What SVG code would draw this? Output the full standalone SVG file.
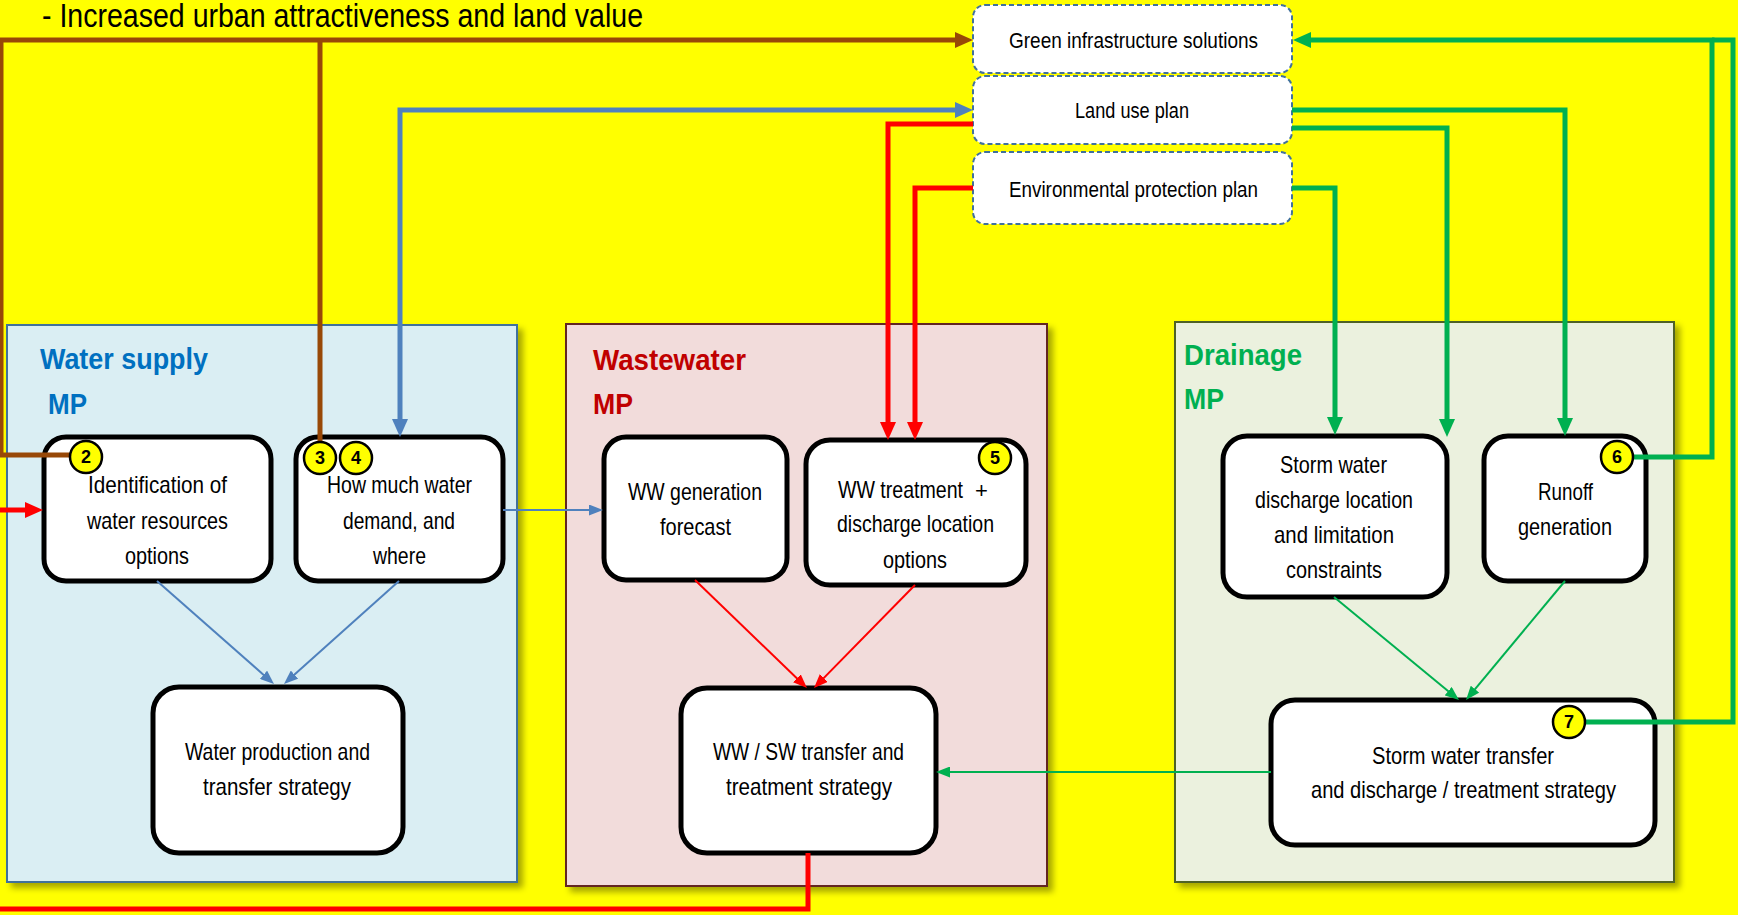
<svg xmlns="http://www.w3.org/2000/svg" width="1738" height="915" viewBox="0 0 1738 915">
<style>
text{font-family:'Liberation Sans Narrow','Liberation Sans',Arial,sans-serif;fill:#000}
.t{font-size:24px}
.tb{font-size:22px}
.pt{font-size:30px;font-weight:bold}
.node rect{fill:#fff;stroke:#000;stroke-width:5}
.dash rect{fill:#fff;stroke:#41719C;stroke-width:2;stroke-dasharray:5 3}
.badge circle{fill:#FFFF00;stroke:#000;stroke-width:2.5}
.badge text{font-size:18px;font-weight:bold;text-anchor:middle}
.c{fill:none;stroke-linejoin:miter}
.thick{stroke-width:5}
.thin{stroke-width:2}
</style>
<defs>
<filter id="sh" x="-5%" y="-5%" width="115%" height="115%">
<feDropShadow dx="5" dy="5" stdDeviation="3" flood-color="#000" flood-opacity="0.35"/>
</filter>
<marker id="abr" markerUnits="userSpaceOnUse" markerWidth="18" markerHeight="16" refX="10" refY="8" orient="auto-start-reverse"><path d="M0,0 L18,8 L0,16 z" fill="#984807"/></marker>
<marker id="abl" markerUnits="userSpaceOnUse" markerWidth="18" markerHeight="16" refX="10" refY="8" orient="auto-start-reverse"><path d="M0,0 L18,8 L0,16 z" fill="#4F81BD"/></marker>
<marker id="are" markerUnits="userSpaceOnUse" markerWidth="18" markerHeight="16" refX="10" refY="8" orient="auto-start-reverse"><path d="M0,0 L18,8 L0,16 z" fill="#FF0000"/></marker>
<marker id="agr" markerUnits="userSpaceOnUse" markerWidth="18" markerHeight="16" refX="10" refY="8" orient="auto-start-reverse"><path d="M0,0 L18,8 L0,16 z" fill="#00B050"/></marker>
<marker id="tbl" markerUnits="userSpaceOnUse" markerWidth="14" markerHeight="11" refX="10" refY="5.5" orient="auto"><path d="M0,0 L14,5.5 L0,11 z" fill="#4F81BD"/></marker>
<marker id="tre" markerUnits="userSpaceOnUse" markerWidth="14" markerHeight="11" refX="10" refY="5.5" orient="auto"><path d="M0,0 L14,5.5 L0,11 z" fill="#FF0000"/></marker>
<marker id="tgr" markerUnits="userSpaceOnUse" markerWidth="14" markerHeight="11" refX="10" refY="5.5" orient="auto"><path d="M0,0 L14,5.5 L0,11 z" fill="#00B050"/></marker>
</defs>
<rect x="0" y="0" width="1738" height="915" fill="#FFFF00"/>
<text x="42" y="27" font-size="34" textLength="601" lengthAdjust="spacingAndGlyphs">- Increased urban attractiveness and land value</text>

<g id="panel-water-supply">
<rect x="7" y="325" width="510" height="557" fill="#DAEEF3" stroke="#41719C" stroke-width="2" filter="url(#sh)"/>
<text class="pt" x="40" y="369" style="fill:#0070C0" textLength="168" lengthAdjust="spacingAndGlyphs">Water supply</text>
<text class="pt" x="48" y="414" style="fill:#0070C0" textLength="39" lengthAdjust="spacingAndGlyphs">MP</text>
</g>
<g id="panel-wastewater">
<rect x="566" y="324" width="481" height="562" fill="#F2DCDB" stroke="#632523" stroke-width="2" filter="url(#sh)"/>
<text class="pt" x="593" y="370" style="fill:#C00000" textLength="153" lengthAdjust="spacingAndGlyphs">Wastewater</text>
<text class="pt" x="593" y="414" style="fill:#C00000" textLength="40" lengthAdjust="spacingAndGlyphs">MP</text>
</g>
<g id="panel-drainage">
<rect x="1175" y="322" width="499" height="560" fill="#EBF1DE" stroke="#4F6228" stroke-width="2" filter="url(#sh)"/>
<text class="pt" x="1184" y="365" style="fill:#00B050" textLength="118" lengthAdjust="spacingAndGlyphs">Drainage</text>
<text class="pt" x="1184" y="409" style="fill:#00B050" textLength="40" lengthAdjust="spacingAndGlyphs">MP</text>
</g>

<g id="green-infrastructure" class="dash">
<rect x="973" y="5" width="319" height="68" rx="12"/>
<text class="tb" x="1009" y="48" textLength="249" lengthAdjust="spacingAndGlyphs">Green infrastructure solutions</text>
</g>
<g id="land-use-plan" class="dash">
<rect x="973" y="76" width="319" height="68" rx="12"/>
<text class="tb" x="1075" y="118" textLength="114" lengthAdjust="spacingAndGlyphs">Land use plan</text>
</g>
<g id="environmental-protection-plan" class="dash">
<rect x="973" y="152" width="319" height="72" rx="12"/>
<text class="tb" x="1009" y="197" textLength="249" lengthAdjust="spacingAndGlyphs">Environmental protection plan</text>
</g>

<g id="identification" class="node">
<rect x="44" y="437" width="227" height="144" rx="22"/>
<text class="t" x="88" y="493" textLength="139" lengthAdjust="spacingAndGlyphs">Identification of</text>
<text class="t" x="87" y="529" textLength="141" lengthAdjust="spacingAndGlyphs">water resources</text>
<text class="t" x="125" y="564" textLength="64" lengthAdjust="spacingAndGlyphs">options</text>
</g>
<g id="water-demand" class="node">
<rect x="296" y="437" width="207" height="144" rx="22"/>
<text class="t" x="327" y="493" textLength="145" lengthAdjust="spacingAndGlyphs">How much water</text>
<text class="t" x="343" y="529" textLength="112" lengthAdjust="spacingAndGlyphs">demand, and</text>
<text class="t" x="373" y="564" textLength="53" lengthAdjust="spacingAndGlyphs">where</text>
</g>
<g id="water-production" class="node">
<rect x="153" y="687" width="250" height="166" rx="26"/>
<text class="t" x="185" y="760" textLength="185" lengthAdjust="spacingAndGlyphs">Water production and</text>
<text class="t" x="203" y="795" textLength="148" lengthAdjust="spacingAndGlyphs">transfer strategy</text>
</g>
<g id="ww-generation" class="node">
<rect x="604" y="437" width="183" height="143" rx="22"/>
<text class="t" x="628" y="500" textLength="134" lengthAdjust="spacingAndGlyphs">WW generation</text>
<text class="t" x="660" y="535" textLength="71" lengthAdjust="spacingAndGlyphs">forecast</text>
</g>
<g id="ww-treatment" class="node">
<rect x="806" y="440" width="220" height="145" rx="24"/>
<text class="t" x="838" y="498"><tspan textLength="125" lengthAdjust="spacingAndGlyphs">WW treatment</tspan><tspan x="975" font-size="22">+</tspan></text>
<text class="t" x="837" y="532" textLength="157" lengthAdjust="spacingAndGlyphs">discharge location</text>
<text class="t" x="883" y="568" textLength="64" lengthAdjust="spacingAndGlyphs">options</text>
</g>
<g id="ww-sw-strategy" class="node">
<rect x="681" y="688" width="255" height="165" rx="26"/>
<text class="t" x="713" y="760" textLength="191" lengthAdjust="spacingAndGlyphs">WW / SW transfer and</text>
<text class="t" x="726" y="795" textLength="166" lengthAdjust="spacingAndGlyphs">treatment strategy</text>
</g>
<g id="storm-discharge" class="node">
<rect x="1223" y="436" width="224" height="161" rx="24"/>
<text class="t" x="1280" y="473" textLength="107" lengthAdjust="spacingAndGlyphs">Storm water</text>
<text class="t" x="1255" y="508" textLength="158" lengthAdjust="spacingAndGlyphs">discharge location</text>
<text class="t" x="1274" y="543" textLength="120" lengthAdjust="spacingAndGlyphs">and limitation</text>
<text class="t" x="1286" y="578" textLength="96" lengthAdjust="spacingAndGlyphs">constraints</text>
</g>
<g id="runoff" class="node">
<rect x="1484" y="436" width="162" height="145" rx="24"/>
<text class="t" x="1538" y="500" textLength="55" lengthAdjust="spacingAndGlyphs">Runoff</text>
<text class="t" x="1518" y="535" textLength="94" lengthAdjust="spacingAndGlyphs">generation</text>
</g>
<g id="storm-strategy" class="node">
<rect x="1271" y="700" width="384" height="145" rx="24"/>
<text class="t" x="1372" y="764" textLength="182" lengthAdjust="spacingAndGlyphs">Storm water transfer</text>
<text class="t" x="1311" y="798" textLength="305" lengthAdjust="spacingAndGlyphs">and discharge / treatment strategy</text>
</g>

<g id="connectors">
<path class="c thick" stroke="#984807" d="M72,455 H1 V40 H965" marker-end="url(#abr)"/>
<path class="c thick" stroke="#984807" d="M320,40 V442"/>
<path class="c thick" stroke="#4F81BD" d="M400,429 V110 H965" marker-start="url(#abl)" marker-end="url(#abl)"/>
<path class="c thick" stroke="#FF0000" d="M973,124 H888 V432" marker-end="url(#are)"/>
<path class="c thick" stroke="#FF0000" d="M973,188 H915 V432" marker-end="url(#are)"/>
<path class="c thick" stroke="#FF0000" d="M808,853 V909 H-4 V510 H35" marker-end="url(#are)"/>
<path class="c thick" stroke="#00B050" d="M1585,722 H1733 V40 H1712"/>
<path class="c thick" stroke="#00B050" d="M1633,457 H1712 V40 H1301" marker-end="url(#agr)"/>
<path class="c thick" stroke="#00B050" d="M1292,110 H1565 V428" marker-end="url(#agr)"/>
<path class="c thick" stroke="#00B050" d="M1292,128 H1447 V429" marker-end="url(#agr)"/>
<path class="c thick" stroke="#00B050" d="M1292,188 H1335 V427" marker-end="url(#agr)"/>
<path class="c thin" stroke="#4F81BD" d="M503,510 H599" marker-end="url(#tbl)"/>
<path class="c thin" stroke="#4F81BD" d="M157,581 L271,681.4" marker-end="url(#tbl)"/>
<path class="c thin" stroke="#4F81BD" d="M399,581 L287,681.3" marker-end="url(#tbl)"/>
<path class="c thin" stroke="#FF0000" d="M695,580 L804.1,685.2" marker-end="url(#tre)"/>
<path class="c thin" stroke="#FF0000" d="M915,585 L816.8,685.1" marker-end="url(#tre)"/>
<path class="c thin" stroke="#00B050" stroke-width="2.5" d="M1334,597 L1455.9,697.5" marker-end="url(#tgr)"/>
<path class="c thin" stroke="#00B050" stroke-width="2.5" d="M1565,581 L1468.6,696.9" marker-end="url(#tgr)"/>
<path class="c thin" stroke="#00B050" stroke-width="2.5" d="M1271,772 H940" marker-end="url(#tgr)"/>
</g>

<g id="badge-2" class="badge"><circle cx="86" cy="457" r="16"/><text x="86" y="463">2</text></g>
<g id="badge-3" class="badge"><circle cx="320" cy="458" r="16"/><text x="320" y="464">3</text></g>
<g id="badge-4" class="badge"><circle cx="356" cy="458" r="16"/><text x="356" y="464">4</text></g>
<g id="badge-5" class="badge"><circle cx="995" cy="458" r="16"/><text x="995" y="464">5</text></g>
<g id="badge-6" class="badge"><circle cx="1617" cy="457" r="16"/><text x="1617" y="463">6</text></g>
<g id="badge-7" class="badge"><circle cx="1569" cy="722" r="16"/><text x="1569" y="728">7</text></g>
</svg>
